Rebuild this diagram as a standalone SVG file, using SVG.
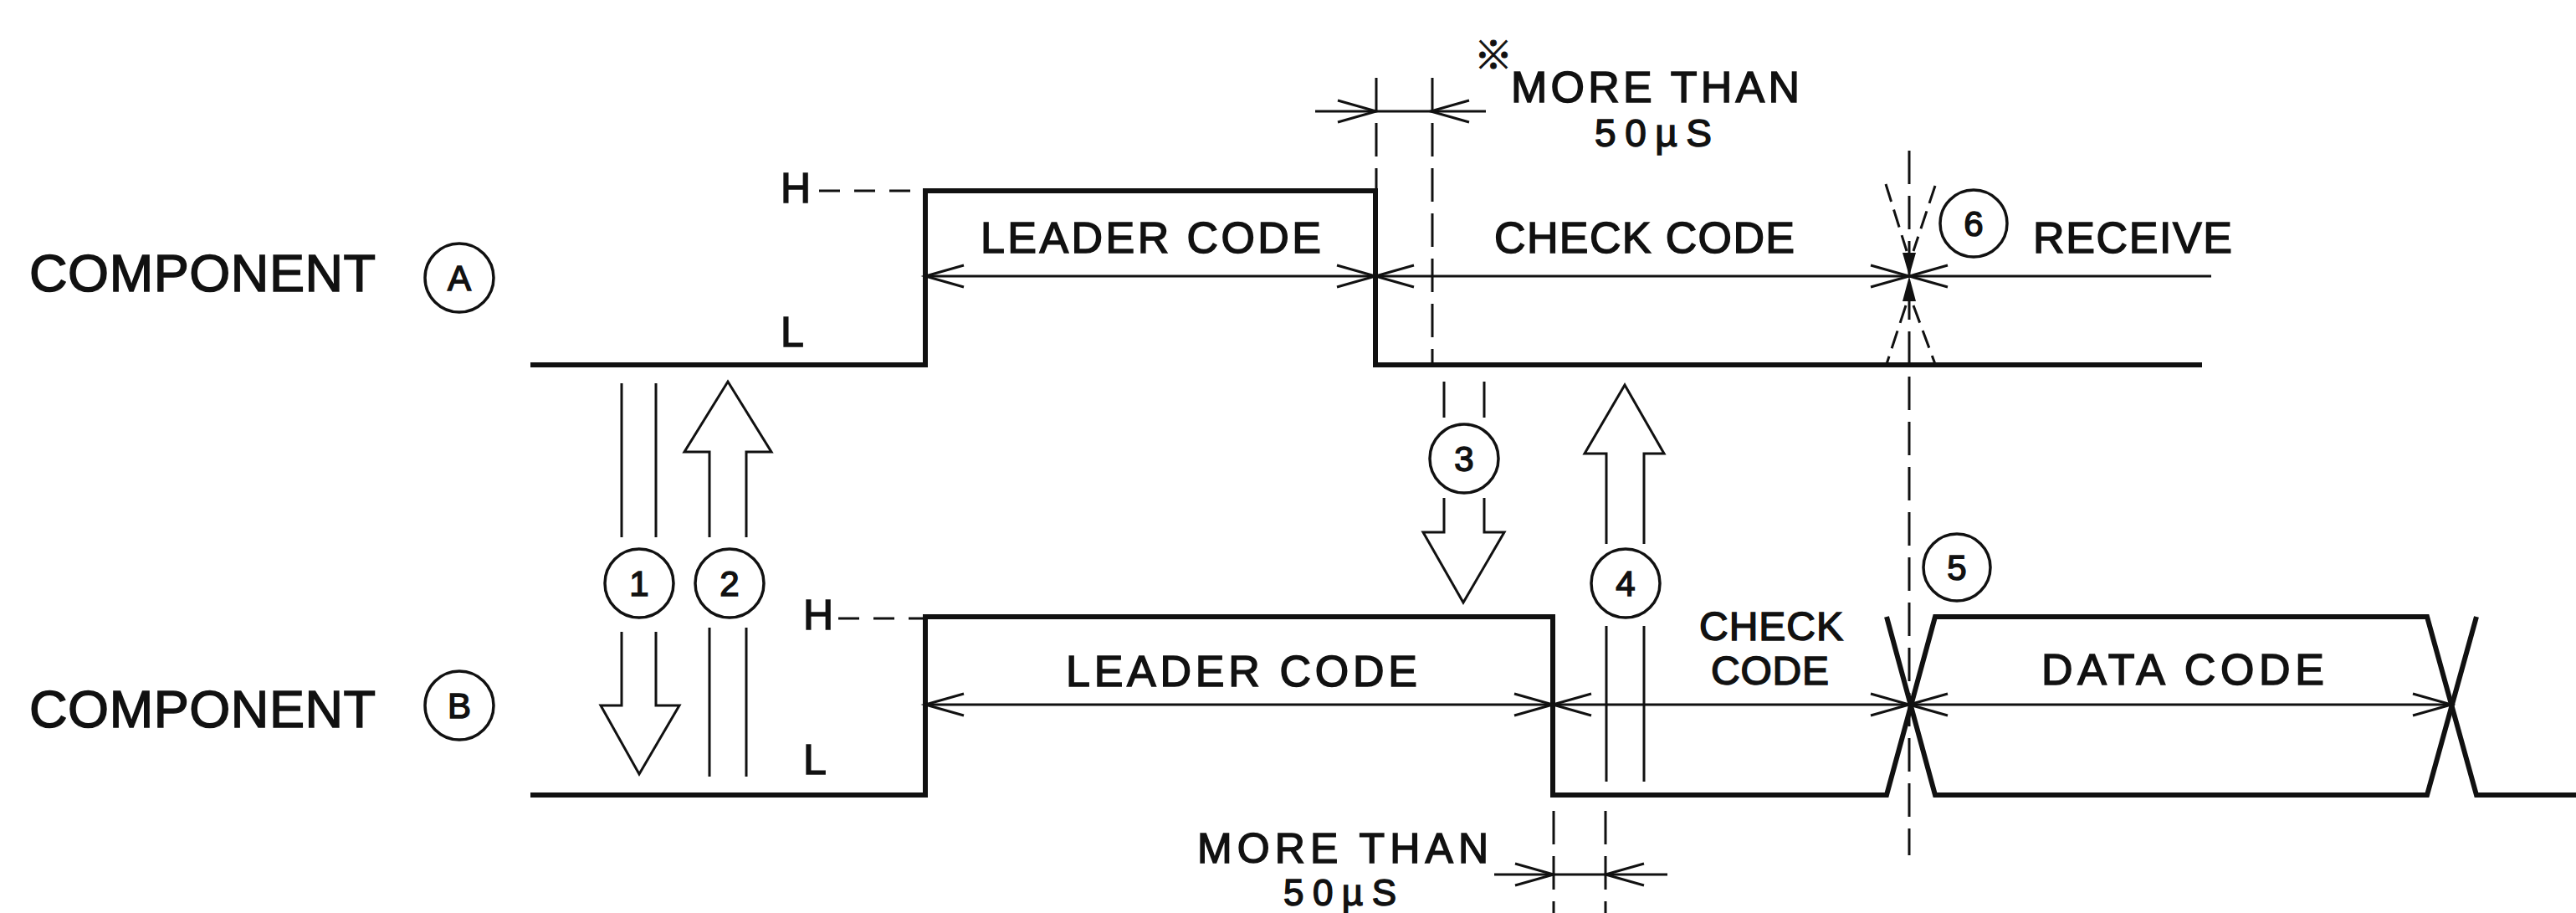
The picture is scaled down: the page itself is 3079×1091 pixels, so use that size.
<svg xmlns="http://www.w3.org/2000/svg" width="3079" height="1091" viewBox="0 0 3079 1091">
<defs>
<style>
.sig{fill:none;stroke:#111;stroke-width:6;stroke-linejoin:miter}
.thin{fill:none;stroke:#111;stroke-width:3}
.dash{fill:none;stroke:#111;stroke-width:3;stroke-dasharray:40 14}
.hdash{fill:none;stroke:#111;stroke-width:3;stroke-dasharray:25 17}
.ddash{fill:none;stroke:#111;stroke-width:3;stroke-dasharray:22 10}
.circ{fill:none;stroke:#111;stroke-width:3.5}
text{font-family:"Liberation Sans",Arial,sans-serif;fill:#111;stroke:#111;stroke-width:1.5}
.big{font-size:63px}
.lab{font-size:52px}
.two{font-size:48px}
.sm{font-size:46px}
.hl{font-size:50px}
.num{font-size:42px;text-anchor:middle}
</style>
<path id="ahR" d="M-46,-13 L0,0 L-46,13"/>
<path id="ahL" d="M46,-13 L0,0 L46,13"/>
</defs>
<rect width="3079" height="1091" fill="#fff"/>

<g id="signal-a">
<path class="sig" d="M634,436 H1106 V228 H1644 V436 H2632"/>
<path class="hdash" d="M979,228 H1104"/>
<text class="hl" x="933" y="242">H</text>
<text class="hl" x="933" y="414">L</text>
</g>

<g id="signal-b">
<path class="sig" d="M634,950 H1106 V737 H1856 V950 H2255 L2313,737 H2901 L2960,950 H3079"/>
<path class="sig" d="M2255,737 L2313,950 H2901 L2960,737"/>
<path class="hdash" d="M1002,739 H1104"/>
<text class="hl" x="960" y="752">H</text>
<text class="hl" x="960" y="925">L</text>
</g>

<g id="component-a">
<text class="big" x="35" y="348" textLength="414" lengthAdjust="spacing">COMPONENT</text>
<circle class="circ" cx="549" cy="332" r="41"/>
<text class="num" x="549" y="347">A</text>
</g>
<g id="component-b">
<text class="big" x="35" y="869" textLength="414" lengthAdjust="spacing">COMPONENT</text>
<circle class="circ" cx="549" cy="843" r="41"/>
<text class="num" x="549" y="858">B</text>
</g>

<g id="connectors">
<path class="thin" d="M1106,330 H2643"/>
<use class="thin" href="#ahL" x="1106" y="330"/>
<use class="thin" href="#ahR" x="1644" y="330"/>
<use class="thin" href="#ahL" x="1644" y="330"/>
<use class="thin" href="#ahR" x="2282" y="330"/>
<use class="thin" href="#ahL" x="2282" y="330"/>
<path class="thin" d="M1106,842 H2930"/>
<use class="thin" href="#ahL" x="1106" y="842"/>
<use class="thin" href="#ahR" x="1856" y="842"/>
<use class="thin" href="#ahL" x="1856" y="842"/>
<use class="thin" href="#ahR" x="2282" y="842"/>
<use class="thin" href="#ahL" x="2282" y="842"/>
<use class="thin" href="#ahR" x="2930" y="842"/>
<path class="thin" d="M1572,133 H1776"/>
<use class="thin" href="#ahR" x="1645" y="133"/>
<use class="thin" href="#ahL" x="1710" y="133"/>
<path class="thin" d="M1786,1045 H1993"/>
<use class="thin" href="#ahR" x="1857" y="1045"/>
<use class="thin" href="#ahL" x="1919" y="1045"/>
<path class="dash" d="M1645,93 V225"/>
<path class="dash" d="M1712,93 V436"/>
<path class="dash" d="M2282,180 V1022"/>
<path class="dash" d="M1857,969 V1091"/>
<path class="dash" d="M1919,969 V1091"/>
<path class="ddash" d="M2254,220 L2279,300 M2313,222 L2287,300 M2278,365 L2255,435 M2287,365 L2313,435"/>
<path fill="#111" d="M2274,302 L2290,302 L2282,330 Z M2274,360 L2290,360 L2282,330 Z"/>
<path class="thin" d="M743,458 V642 M784,458 V642"/>
<path class="thin" d="M743,755 V843 H718 L764,925 L812,843 H784 V755"/>
<path class="thin" d="M848,642 V540 H818 L870,456 L922,540 H892 V642"/>
<path class="thin" d="M848,750 V928 M892,750 V928"/>
<path class="thin" d="M1726,456 V499 M1774,456 V499"/>
<path class="thin" d="M1726,595 V636 H1701 L1749,720 L1798,636 H1774 V595"/>
<path class="thin" d="M1920,650 V542 H1894 L1942,460 L1989,542 H1965 V650"/>
<path class="thin" d="M1920,748 V934 M1965,748 V934"/>
</g>

<g id="step-1"><circle class="circ" cx="764" cy="697" r="41"/><text class="num" x="764" y="712">1</text></g>
<g id="step-2"><circle class="circ" cx="872" cy="697" r="41"/><text class="num" x="872" y="712">2</text></g>
<g id="step-3"><circle class="circ" cx="1750" cy="548" r="41"/><text class="num" x="1750" y="563">3</text></g>
<g id="step-4"><circle class="circ" cx="1943" cy="697" r="41"/><text class="num" x="1943" y="712">4</text></g>
<g id="step-5"><circle class="circ" cx="2339" cy="678" r="40"/><text class="num" x="2339" y="693">5</text></g>
<g id="step-6"><circle class="circ" cx="2359" cy="267" r="40"/><text class="num" x="2359" y="282">6</text></g>

<g id="labels">
<text class="lab" x="1172" y="302" textLength="407" lengthAdjust="spacing">LEADER CODE</text>
<text class="lab" x="1786" y="302" textLength="359" lengthAdjust="spacing">CHECK CODE</text>
<text class="lab" x="2430" y="302" textLength="238" lengthAdjust="spacing">RECEIVE</text>
<text x="1785" y="82" font-size="46" text-anchor="middle" style="font-family:'Noto Sans CJK JP','DejaVu Sans',sans-serif;stroke-width:1">※</text>
<text class="lab" x="1806" y="122" textLength="345" lengthAdjust="spacing">MORE THAN</text>
<text class="sm" x="1906" y="175" textLength="140" lengthAdjust="spacing">50µS</text>
<text class="lab" x="1274" y="820" textLength="420" lengthAdjust="spacing">LEADER CODE</text>
<text class="two" x="2031" y="765" textLength="172" lengthAdjust="spacing">CHECK</text>
<text class="two" x="2045" y="818" textLength="141" lengthAdjust="spacing">CODE</text>
<text class="lab" x="2440" y="818" textLength="338" lengthAdjust="spacing">DATA CODE</text>
<text x="1431" y="1031" font-size="50" textLength="348" lengthAdjust="spacing">MORE THAN</text>
<text x="1534" y="1082" font-size="44" textLength="135" lengthAdjust="spacing">50µS</text>
</g>
</svg>
